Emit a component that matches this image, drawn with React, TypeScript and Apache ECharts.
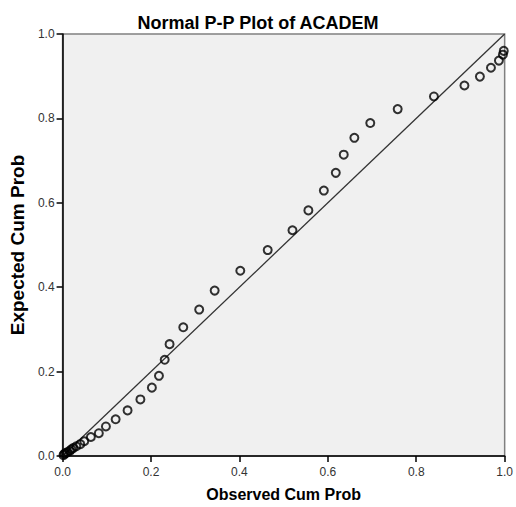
import React, { useEffect, useRef } from "react";
import * as echarts from "echarts";

const titleText = "Normal P-P Plot of ACADEM";
const xName = "Observed Cum Prob";
const yName = "Expected Cum Prob";

const observed = [
  0.002, 0.004, 0.007, 0.011, 0.016, 0.02, 0.024, 0.031, 0.04, 0.049, 0.064,
  0.082, 0.098, 0.12, 0.147, 0.176, 0.202, 0.218, 0.231, 0.242, 0.273, 0.309,
  0.344, 0.402, 0.464, 0.52, 0.556, 0.591, 0.618, 0.636, 0.66, 0.696, 0.758,
  0.84, 0.909, 0.944, 0.969, 0.987, 0.996, 0.998,
];
const expected = [
  0.002, 0.005, 0.007, 0.009, 0.012, 0.016, 0.019, 0.023, 0.028, 0.035, 0.045,
  0.054, 0.07, 0.087, 0.108, 0.134, 0.162, 0.19, 0.228, 0.265, 0.305, 0.347,
  0.392, 0.439, 0.488, 0.535, 0.582, 0.629, 0.671, 0.714, 0.754, 0.789, 0.822,
  0.852, 0.878, 0.899, 0.92, 0.937, 0.951, 0.96,
];
const refLine = [
  [0, 0],
  [1, 1],
];

export default function App() {
  const ref = useRef<HTMLDivElement>(null);
  useEffect(() => {
    if (!ref.current) return;
    const chart = echarts.init(ref.current, undefined, { renderer: "svg" });
    const font = "'Liberation Sans', Arial, sans-serif";
    const axisCommon = {
      type: "value",
      min: 0,
      max: 1,
      interval: 0.2,
      nameLocation: "middle",
      axisLine: { show: true, lineStyle: { color: "#000", width: 1.5 } },
      axisTick: {
        show: true,
        inside: false,
        length: 6,
        lineStyle: { color: "#000", width: 1.5 },
      },
      axisLabel: {
        fontFamily: font,
        fontSize: 12,
        color: "#333",
        margin: 8,
        formatter: (v: number) => v.toFixed(1),
      },
      splitLine: { show: false },
    };
    chart.setOption({
      animation: false,
      backgroundColor: "#fff",
      title: {
        text: titleText,
        left: 253,
        textAlign: "center",
        top: 9,
        textStyle: {
          fontFamily: font,
          fontSize: 18,
          fontWeight: "bold",
          color: "#000",
        },
      },
      grid: {
        left: 58,
        right: 8,
        top: 34,
        bottom: 47,
        show: true,
        backgroundColor: "#f0f0f0",
        borderColor: "#808080",
        borderWidth: 1.5,
      },
      xAxis: {
        ...axisCommon,
        name: xName,
        nameGap: 30,
        nameTextStyle: {
          fontFamily: font,
          fontSize: 16,
          fontWeight: "bold",
          color: "#000",
        },
        axisLabel: { ...axisCommon.axisLabel, margin: 10 },
      },
      yAxis: {
        ...axisCommon,
        name: yName,
        nameGap: 35,
        nameTextStyle: {
          fontFamily: font,
          fontSize: 19,
          fontWeight: "bold",
          color: "#000",
        },
      },
      series: [
        {
          type: "line",
          data: refLine,
          symbol: "none",
          lineStyle: { color: "#333", width: 1.3 },
          z: 2,
        },
        {
          type: "scatter",
          data: observed.map((x, i) => [x, expected[i]]),
          symbol: "circle",
          symbolSize: 8,
          itemStyle: {
            color: "rgba(0,0,0,0)",
            borderColor: "#000",
            borderWidth: 2,
          },
          z: 3,
        },
      ],
    });
    return () => chart.dispose();
  }, []);
  return (
    <div
      ref={ref}
      style={{ position: "fixed", left: 0, top: 0, width: 516, height: 507 }}
    />
  );
}
